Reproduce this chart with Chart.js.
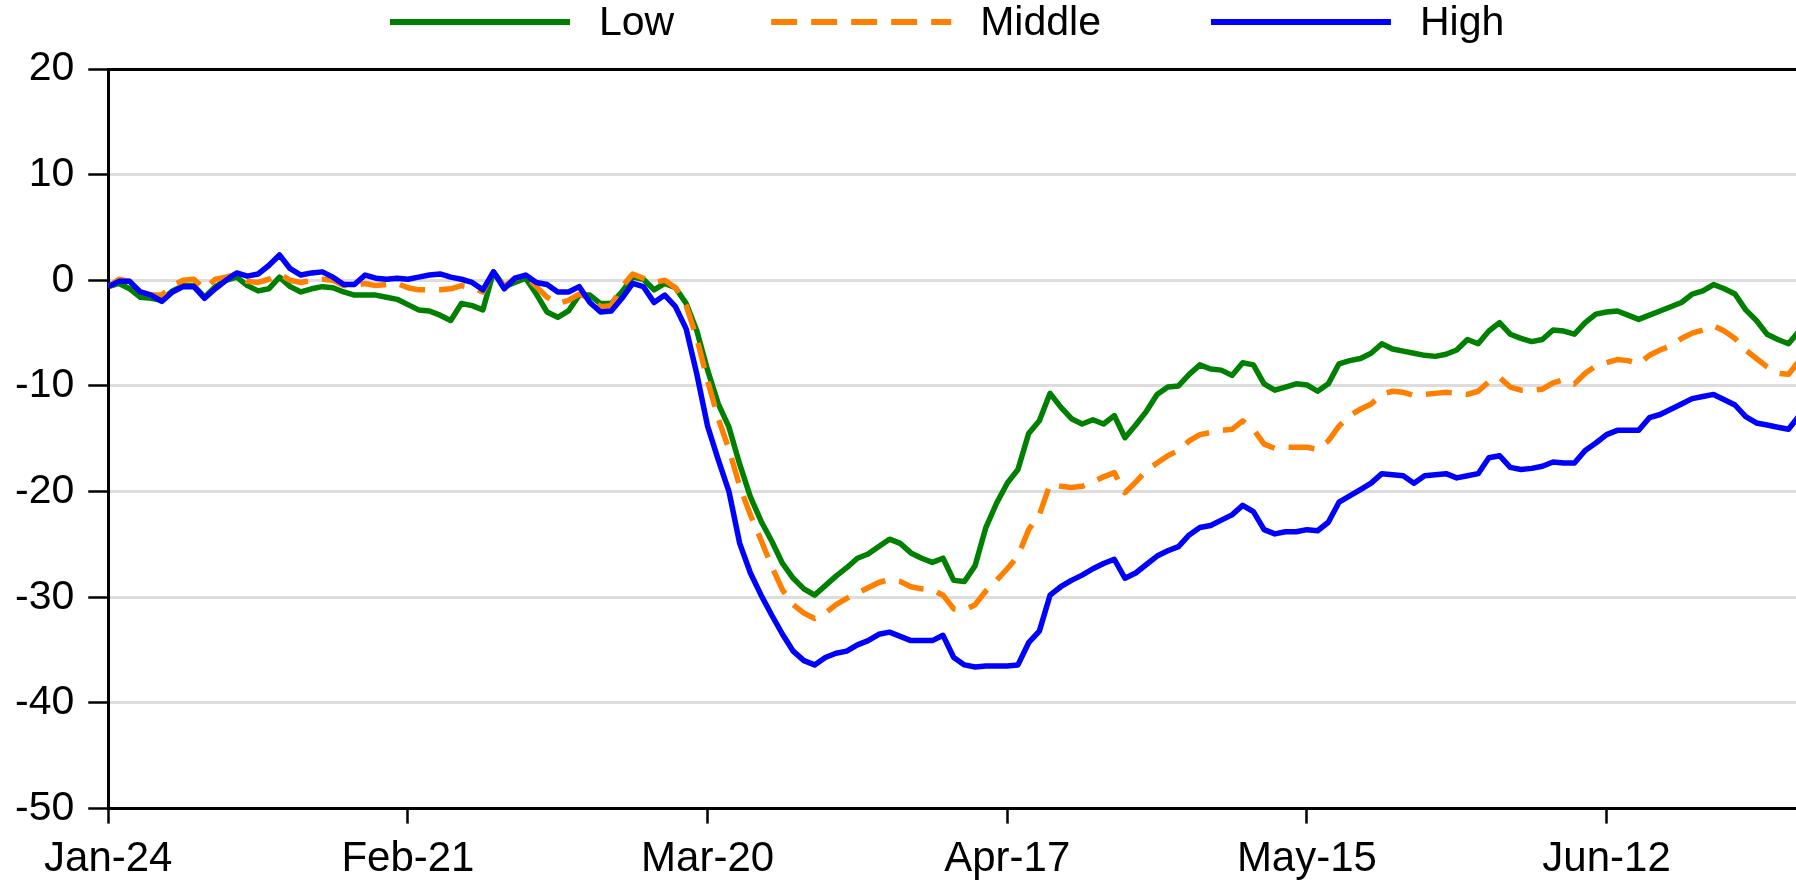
<!DOCTYPE html>
<html>
<head>
<meta charset="utf-8">
<script src="https://cdn.jsdelivr.net/npm/chart.js@4.4.1/dist/chart.umd.min.js"></script>
<style>
  html, body { margin: 0; padding: 0; background: #fff; }
  #wrap { width: 1796px; height: 880px; position: relative; }
</style>
</head>
<body>
<div id="wrap"><canvas id="chart"></canvas></div>
<script>
// daily index change, 24 Jan to 30 Jun
const lowValues = [
  -0.6, -0.3, -0.8, -1.6, -1.7, -1.9, -1.0, -0.5, -0.5, -1.6,
  -0.6, 0.0, 0.3, -0.5, -1.0, -0.8, 0.3, -0.6, -1.1, -0.8,
  -0.6, -0.7, -1.1, -1.4, -1.4, -1.4, -1.6, -1.8, -2.3, -2.8,
  -2.9, -3.3, -3.8, -2.2, -2.4, -2.8, 0.8, -0.6, -0.2, 0.2,
  -1.3, -3.0, -3.5, -2.9, -1.4, -1.4, -2.2, -2.2, -1.1, 0.3,
  0.1, -0.9, -0.3, -0.7, -2.2, -4.8, -8.5, -11.7, -13.9, -17.4,
  -20.5, -22.8, -24.7, -26.8, -28.2, -29.2, -29.8, -28.9, -28.0, -27.2,
  -26.3, -25.9, -25.2, -24.5, -24.9, -25.8, -26.3, -26.7, -26.3, -28.4,
  -28.5, -27.0, -23.4, -21.1, -19.2, -17.9, -14.5, -13.3, -10.7, -12.0,
  -13.1, -13.6, -13.2, -13.6, -12.8, -14.9, -13.7, -12.4, -10.8, -10.1,
  -10.0, -8.9, -8.0, -8.4, -8.5, -9.0, -7.8, -8.0, -9.8, -10.4,
  -10.1, -9.8, -9.9, -10.5, -9.8, -7.9, -7.6, -7.4, -6.9, -6.0,
  -6.5, -6.7, -6.9, -7.1, -7.2, -7.0, -6.6, -5.6, -6.0, -4.8,
  -4.0, -5.1, -5.5, -5.8, -5.6, -4.7, -4.8, -5.1, -4.0, -3.2,
  -3.0, -2.9, -3.3, -3.7, -3.3, -2.9, -2.5, -2.1, -1.3, -1.0,
  -0.4, -0.8, -1.3, -2.8, -3.8, -5.1, -5.6, -6.0, -4.8
];

const middleValues = [
  -0.6, 0.1, -0.1, -1.1, -1.4, -1.4, -0.5, 0.0, 0.1, -0.8,
  0.1, 0.3, 0.6, -0.1, -0.2, 0.1, 0.6, 0.0, -0.2, 0.0,
  0.1, 0.0, -0.5, -0.5, -0.3, -0.5, -0.4, -0.3, -0.7, -0.9,
  -0.9, -0.9, -0.8, -0.5, -0.7, -1.1, 0.9, -0.6, 0.2, 0.4,
  -0.6, -1.6, -2.2, -1.9, -1.3, -1.7, -2.5, -2.4, -0.6, 0.6,
  0.2, -0.2, 0.0, -0.7, -2.4, -5.5, -9.5, -13.1, -16.0, -19.5,
  -22.2, -24.6, -27.1, -29.3, -30.7, -31.5, -32.0, -31.5, -30.7, -30.1,
  -29.6, -29.1, -28.6, -28.3, -28.5, -29.0, -29.2, -29.3, -29.8, -31.1,
  -31.2, -30.7, -29.4, -28.4, -27.3, -26.1, -23.6, -22.2, -19.3, -19.5,
  -19.6, -19.5, -19.1, -18.6, -18.2, -20.1, -19.1, -18.0, -17.3, -16.6,
  -16.1, -15.2, -14.6, -14.4, -14.2, -14.1, -13.3, -14.1, -15.5, -15.9,
  -15.8, -15.8, -15.8, -16.0, -15.2, -13.8, -12.8, -12.2, -11.7, -10.8,
  -10.5, -10.6, -10.9, -10.8, -10.7, -10.6, -10.7, -10.8, -10.5, -9.6,
  -9.2, -10.1, -10.4, -10.4, -10.3, -9.7, -9.4, -9.8, -8.8, -8.1,
  -7.8, -7.5, -7.6, -7.9, -7.1, -6.6, -6.2, -5.5, -5.0, -4.7,
  -4.3, -4.8, -5.5, -6.6, -7.4, -8.2, -8.8, -8.9, -7.6
];

const highValues = [
  -0.6, -0.1, -0.1, -1.1, -1.4, -2.0, -1.1, -0.6, -0.6, -1.7,
  -0.8, 0.0, 0.7, 0.4, 0.6, 1.4, 2.4, 1.1, 0.5, 0.7,
  0.8, 0.3, -0.4, -0.4, 0.5, 0.2, 0.1, 0.2, 0.1, 0.3,
  0.5, 0.6, 0.3, 0.1, -0.2, -0.9, 0.8, -0.8, 0.2, 0.5,
  -0.2, -0.4, -1.1, -1.1, -0.6, -2.1, -3.0, -2.9, -1.7, -0.3,
  -0.6, -2.1, -1.4, -2.5, -4.6, -8.9, -13.8, -17.0, -20.0, -24.9,
  -27.7, -29.8, -31.7, -33.5, -35.1, -36.0, -36.4, -35.7, -35.3, -35.1,
  -34.5, -34.1, -33.5, -33.3, -33.7, -34.1, -34.1, -34.1, -33.6, -35.7,
  -36.4, -36.6, -36.5, -36.5, -36.5, -36.4, -34.3, -33.2, -29.8, -29.0,
  -28.4, -27.9, -27.3, -26.8, -26.4, -28.2, -27.7, -26.9, -26.1, -25.6,
  -25.2, -24.1, -23.4, -23.2, -22.7, -22.2, -21.3, -21.9, -23.6, -24.0,
  -23.8, -23.8, -23.6, -23.7, -22.9, -21.0, -20.4, -19.8, -19.2, -18.3,
  -18.4, -18.5, -19.2, -18.5, -18.4, -18.3, -18.7, -18.5, -18.3, -16.8,
  -16.6, -17.7, -17.9, -17.8, -17.6, -17.2, -17.3, -17.3, -16.1, -15.4,
  -14.6, -14.2, -14.2, -14.2, -13.0, -12.7, -12.2, -11.7, -11.2, -11.0,
  -10.8, -11.3, -11.8, -12.9, -13.5, -13.7, -13.9, -14.1, -12.8
];

// x ticks every four weeks from the first day
const tickDays = [0, 28, 56, 84, 112, 140];
const tickLabels = ['Jan-24', 'Feb-21', 'Mar-20', 'Apr-17', 'May-15', 'Jun-12'];
const yTicks = [20, 10, 0, -10, -20, -30, -40, -50];

const days = lowValues.map((v, i) => i);

const FONT = "'Liberation Sans', Arial, sans-serif";
Chart.defaults.font.family = FONT;
Chart.defaults.font.size = 41;
Chart.defaults.color = '#000';

const series = [
  { label: 'Low', data: lowValues, color: '#008000', dash: [], order: 3, after: 97 },
  { label: 'Middle', data: middleValues, color: '#ff8000', dash: [26, 14], order: 2, after: 110 },
  { label: 'High', data: highValues, color: '#0000ff', dash: [], order: 1, after: 0 }
];

// legend drawn as long line samples spread across the top
const lineLegend = {
  id: 'lineLegend',
  afterDraw(chart) {
    const ctx = chart.ctx;
    const area = chart.chartArea;
    const lineLen = 180, gap = 29, y = 24;
    ctx.save();
    ctx.font = '41px ' + FONT;
    const widths = series.map(s => ctx.measureText(s.label).width);
    const total = series.reduce((a, s, i) => a + lineLen + gap + widths[i] + s.after, 0);
    let x = (area.left + area.right) / 2 - total / 2 - 5;
    series.forEach((s, i) => {
      ctx.strokeStyle = s.color;
      ctx.lineWidth = 6;
      ctx.setLineDash(s.dash);
      ctx.beginPath();
      ctx.moveTo(x, y - 2);
      ctx.lineTo(x + lineLen, y - 2);
      ctx.stroke();
      ctx.setLineDash([]);
      ctx.fillStyle = '#000';
      ctx.textBaseline = 'middle';
      ctx.fillText(s.label, x + lineLen + gap, y);
      x += lineLen + gap + widths[i] + s.after;
    });
    ctx.restore();
  }
};

new Chart(document.getElementById('chart'), {
  type: 'line',
  data: {
    labels: days,
    datasets: series.map(s => ({
      label: s.label,
      data: s.data,
      borderColor: s.color,
      backgroundColor: s.color,
      borderWidth: 5.5,
      borderDash: s.dash,
      borderJoinStyle: 'round',
      pointRadius: 0,
      tension: 0,
      order: s.order
    }))
  },
  options: {
    responsive: true,
    maintainAspectRatio: false,
    animation: false,
    layout: { padding: { top: 69, left: 1, right: 0, bottom: -16 } },
    plugins: {
      legend: { display: false },
      tooltip: { enabled: false }
    },
    scales: {
      x: {
        type: 'linear',
        min: 0,
        max: 157.7,
        afterBuildTicks: axis => { axis.ticks = tickDays.map(v => ({ value: v })); },
        ticks: {
          padding: 11,
          maxRotation: 0,
          font: { size: 42 },
          callback: value => tickLabels[tickDays.indexOf(value)]
        },
        grid: {
          drawOnChartArea: false,
          tickLength: 15,
          tickColor: '#000',
          tickWidth: 2.5
        },
        border: { color: '#000', width: 3 }
      },
      y: {
        min: -50,
        max: 20,
        afterBuildTicks: axis => { axis.ticks = yTicks.map(v => ({ value: v })); },
        ticks: { padding: 14 },
        grid: {
          color: ctx => (ctx.tick && (ctx.tick.value === 20 || ctx.tick.value === -50)) ? '#000' : '#dddddd',
          lineWidth: 3,
          tickLength: 20,
          tickColor: '#000',
          tickWidth: 2.5
        },
        border: { color: '#000', width: 3 }
      }
    }
  },
  plugins: [lineLegend]
});
</script>
</body>
</html>
